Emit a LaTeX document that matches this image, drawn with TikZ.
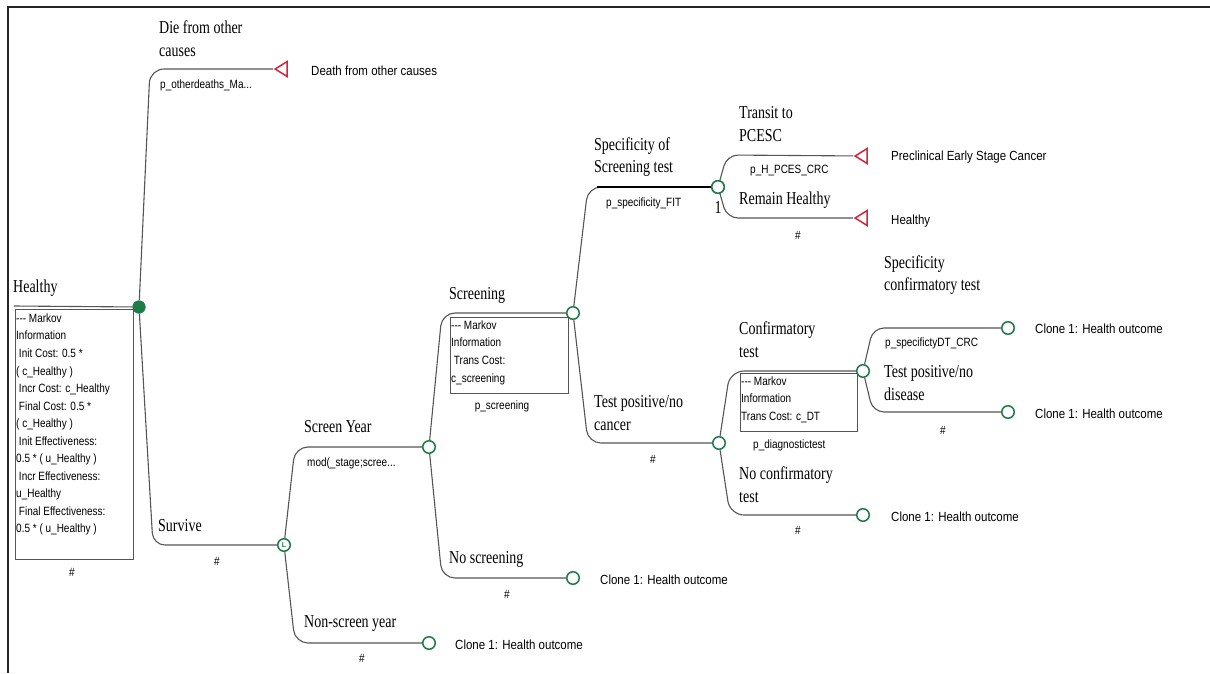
\documentclass[tikz,border=0pt]{standalone}
\usepackage{fontspec}
\setmainfont{Liberation Serif}
\newfontfamily\arialfont{Liberation Sans}
\usetikzlibrary{shapes.geometric}
\definecolor{nodegreen}{RGB}{30,125,70}
\definecolor{termred}{RGB}{212,36,58}
\definecolor{branchgray}{RGB}{85,85,85}
\begin{document}
\begin{tikzpicture}[x=1pt,y=-1pt,
  lbl/.style={font=\fontsize{14}{17.5}\selectfont, anchor=west, align=left, inner sep=0pt, yscale=1.3, transform shape},
  outc/.style={font=\arialfont\fontsize{11.5}{14}\selectfont, anchor=west, inner sep=0pt, yscale=1.15, transform shape},
  prob/.style={font=\arialfont\fontsize{10}{14.6}\selectfont, anchor=west, align=left, inner sep=0pt, yscale=1.2, transform shape},
  hash/.style={prob, anchor=center},
  chance/.style={circle, draw=nodegreen, line width=1.5pt, fill=white, minimum size=12.5pt, inner sep=0pt},
  rootdot/.style={circle, fill=nodegreen, minimum size=13pt, inner sep=0pt},
  term/.style={isosceles triangle, isosceles triangle stretches, shape border rotate=180, draw=termred, line width=1.5pt, fill=white, minimum width=15pt, minimum height=12pt, inner sep=0pt},
  conn/.style={draw=branchgray, line width=1.1pt},
  mbox/.style={draw=branchgray, line width=1.1pt, anchor=north west, inner sep=0pt},
  thickbranch/.style={draw=black, line width=2.8pt}]
\useasboundingbox (0,0) rectangle (1210,673);

% frame
\draw[line width=2.4pt, black!85] (1210,7) -- (8,7) -- (8,673);

% ---------- nodes ----------
\node[rootdot] (r0) at (139,307) {};
\node[term] (tdeath) at (283,69) {};
\node[chance, font=\arialfont\bfseries\fontsize{7}{7}\selectfont, text=nodegreen] (nL) at (284,545) {L};
\node[chance] (nSY) at (429,447) {};
\node[chance] (nNS) at (429,643) {};
\node[chance] (nScr) at (573,313) {};
\node[chance] (nNoScr) at (573,578) {};
\node[chance] (nSpec) at (718,187) {};
\node[chance] (nTP) at (719,443) {};
\node[term] (tPCES) at (863,156) {};
\node[term] (tHealthy) at (863,218) {};
\node[chance] (nConf) at (863,371) {};
\node[chance] (nNoConf) at (863,515) {};
\node[chance] (nC1) at (1008,328) {};
\node[chance] (nC2) at (1008,412) {};

% branch corners
\coordinate (hin) at (14,306);
\coordinate (kdie) at (150,69);
\coordinate (ksurv) at (153,545);
\coordinate (ksy) at (295,447);
\coordinate (kns) at (295,643);
\coordinate (kscr) at (442,313);
\coordinate (knoscr) at (442,578);
\coordinate (kspec) at (588,187);
\coordinate (specstart) at (597,187);
\coordinate (ktp) at (588,443);
\coordinate (ktr) at (727,155);
\coordinate (krh) at (727,218);
\coordinate (kconf) at (730,371);
\coordinate (knoconf) at (730,515);
\coordinate (ksdt) at (873,328);
\coordinate (ktpd) at (873,412);

% ---------- connectors ----------
\draw[conn] (hin) -- (r0);
\draw[conn, rounded corners=14] (r0) -- (kdie) -- (tdeath);
\draw[conn, rounded corners=12] (r0) -- (ksurv) -- (nL);
\draw[conn, rounded corners=13] (nL) -- (ksy) -- (nSY);
\draw[conn, rounded corners=13] (nL) -- (kns) -- (nNS);
\draw[conn, rounded corners=13] (nSY) -- (kscr) -- (nScr);
\draw[conn, rounded corners=13] (nSY) -- (knoscr) -- (nNoScr);
\draw[conn, rounded corners=13] (nScr) -- (kspec) -- (nSpec);
\draw[thickbranch] (specstart) -- (nSpec);
\draw[conn, rounded corners=13] (nScr) -- (ktp) -- (nTP);
\draw[conn, rounded corners=11] (nSpec) -- (ktr) -- (tPCES);
\draw[conn, rounded corners=11] (nSpec) -- (krh) -- (tHealthy);
\draw[conn, rounded corners=14] (nTP) -- (kconf) -- (nConf);
\draw[conn, rounded corners=14] (nTP) -- (knoconf) -- (nNoConf);
\draw[conn, rounded corners=11] (nConf) -- (ksdt) -- (nC1);
\draw[conn, rounded corners=11] (nConf) -- (ktpd) -- (nC2);

% redraw node symbols above the lines
\node[rootdot] at (r0) {};
\node[chance] at (nSpec) {};

% ---------- Markov information boxes ----------
\node[mbox, minimum width=118pt, minimum height=250pt] (boxH) at (15,309) {};
\node[prob, anchor=north west] at (16,313.5) {--- Markov\\Information\\\ Init Cost: 0.5 *\\( c\_Healthy )\\\ Incr Cost: c\_Healthy\\\ Final Cost: 0.5 *\\( c\_Healthy )\\\ Init Effectiveness:\\0.5 * ( u\_Healthy )\\\ Incr Effectiveness:\\u\_Healthy\\\ Final Effectiveness:\\0.5 * ( u\_Healthy )};
\node[mbox, minimum width=118pt, minimum height=76pt] (boxS) at (450,317) {};
\node[prob, anchor=north west] at (451,320.5) {--- Markov\\Information\\\ Trans Cost:\\c\_screening};
\node[mbox, minimum width=117pt, minimum height=58pt] (boxC) at (740,373) {};
\node[prob, anchor=north west] at (741,376.5) {--- Markov\\Information\\Trans Cost: c\_DT};

% ---------- branch labels ----------
\node[lbl] (lH) at (13,288) {Healthy};
\node[lbl] (lDie) at (159,39) {Die from other\\causes};
\node[lbl] (lSurv) at (158,526) {Survive};
\node[lbl] (lSY) at (304,427) {Screen Year};
\node[lbl] (lNSY) at (304,623) {Non-screen year};
\node[lbl] (lScr) at (449,295) {Screening};
\node[lbl] (lNoScr) at (449,559) {No screening};
\node[lbl] (lSpec) at (594,157) {Specificity of\\Screening test};
\node[lbl] (lTP) at (594,413) {Test positive/no\\cancer};
\node[lbl] (lTr) at (739,124) {Transit to\\PCESC};
\node[lbl] (lRH) at (739,200) {Remain Healthy};
\node[lbl] (lConf) at (739,340) {Confirmatory\\test};
\node[lbl] (lNoConf) at (739,485) {No confirmatory\\test};
\node[lbl] (lSDT) at (884,275) {Specificity\\confirmatory test};
\node[lbl] (lTPD) at (884,383) {Test positive/no\\disease};
\node[lbl, anchor=center] (one) at (718,207) {1};

% ---------- probabilities ----------
\node[prob] at (160,85) {p\_otherdeaths\_Ma...};
\node[prob] at (307,463) {mod(\_stage;scree...};
\node[prob, anchor=center] at (502,406) {p\_screening};
\node[prob] at (606,203) {p\_specificity\_FIT};
\node[prob] at (750,171) {p\_H\_PCES\_CRC};
\node[prob] at (753,445) {p\_diagnostictest};
\node[prob] at (885,343) {p\_specifictyDT\_CRC};
\node[hash] at (72,572) {\#};
\node[hash] at (217,561) {\#};
\node[hash] at (362,658) {\#};
\node[hash] at (507,594) {\#};
\node[hash] at (653,459) {\#};
\node[hash] at (798,235) {\#};
\node[hash] at (798,530) {\#};
\node[hash] at (943,430) {\#};

% ---------- outcomes ----------
\node[outc] at (311,71) {Death from other causes};
\node[outc] at (891,157) {Preclinical Early Stage Cancer};
\node[outc] at (891,221) {Healthy};
\node[outc] at (1035,329) {Clone 1: Health outcome};
\node[outc] at (1035,414) {Clone 1: Health outcome};
\node[outc] at (891,517) {Clone 1: Health outcome};
\node[outc] at (600,580) {Clone 1: Health outcome};
\node[outc] at (455,645) {Clone 1: Health outcome};
\end{tikzpicture}
\end{document}
